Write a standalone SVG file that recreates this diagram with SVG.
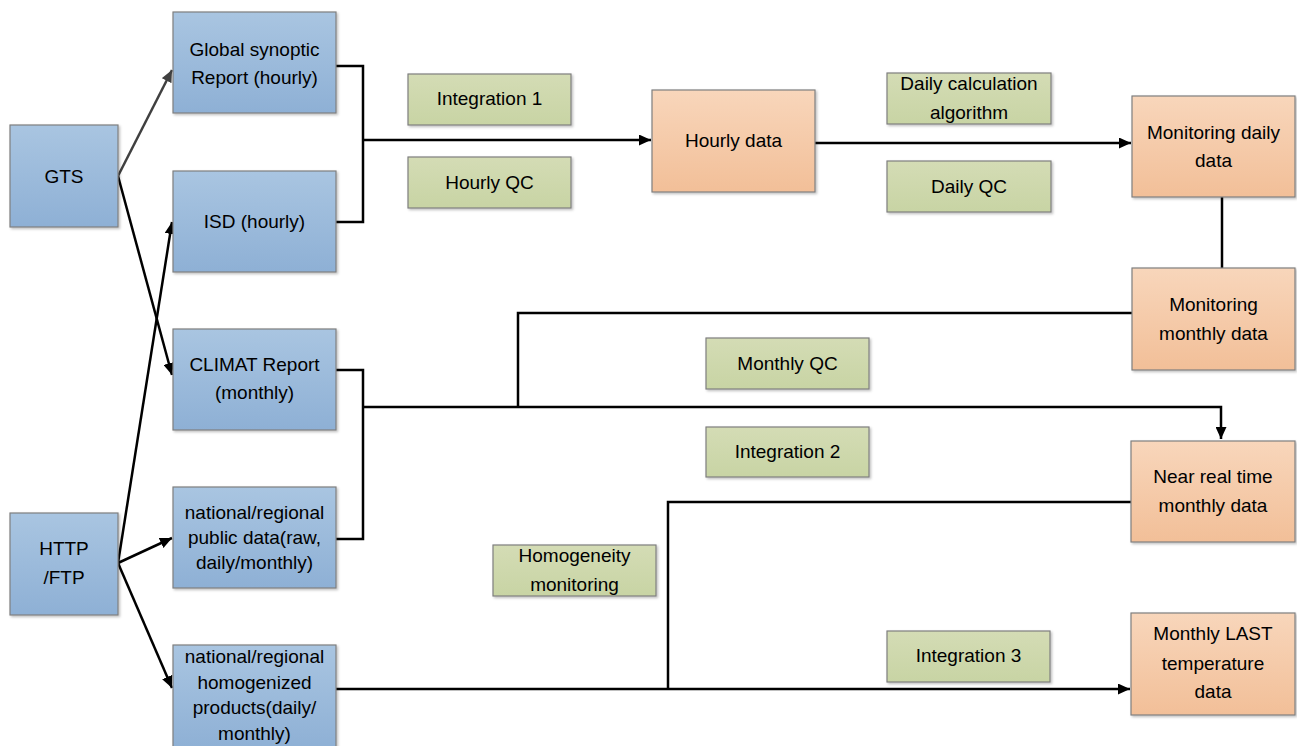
<svg xmlns="http://www.w3.org/2000/svg" width="1297" height="746" viewBox="0 0 1297 746">
<defs>
<linearGradient id="gBlue" x1="0" y1="0" x2="0" y2="1"><stop offset="0" stop-color="#a9c5e1"/><stop offset="1" stop-color="#8eb0d5"/></linearGradient>
<linearGradient id="gOrange" x1="0" y1="0" x2="0" y2="1"><stop offset="0" stop-color="#f8d6bb"/><stop offset="1" stop-color="#f2bf98"/></linearGradient>
<linearGradient id="gGreen" x1="0" y1="0" x2="0" y2="1"><stop offset="0" stop-color="#d4dcb5"/><stop offset="1" stop-color="#c8d4a4"/></linearGradient>
<filter id="sh" x="-5%" y="-5%" width="112%" height="115%"><feDropShadow dx="1.5" dy="1.5" stdDeviation="0.8" flood-color="#000" flood-opacity="0.25"/></filter>
<marker id="arr" markerUnits="userSpaceOnUse" markerWidth="13" markerHeight="11" refX="12" refY="5.5" orient="auto"><path d="M0,0 L12,5.5 L0,11 z" fill="#000"/></marker>
<marker id="arrG" markerUnits="userSpaceOnUse" markerWidth="13" markerHeight="11" refX="12" refY="5.5" orient="auto"><path d="M0,0 L12,5.5 L0,11 z" fill="#404040"/></marker>
</defs>
<style>
.b{fill:url(#gBlue);stroke:#7f7f7f;stroke-width:1.2;filter:url(#sh)}
.o{fill:url(#gOrange);stroke:#7f7f7f;stroke-width:1.2;filter:url(#sh)}
.g{fill:url(#gGreen);stroke:#7f7f7f;stroke-width:1.2;filter:url(#sh)}
text{font-family:"Liberation Sans",Arial,sans-serif;font-size:19px;fill:#000;text-anchor:middle}
.c{fill:none;stroke:#000;stroke-width:2.5}
.cg{fill:none;stroke:#404040;stroke-width:2.5}
</style>
<rect width="1297" height="746" fill="#fff"/>
<g id="connectors">
<path class="cg" d="M118,176 L172,70" marker-end="url(#arrG)"/>
<path class="c" d="M118,176 L172,375" marker-end="url(#arr)"/>
<path class="c" d="M118,563 L172,222" marker-end="url(#arr)"/>
<path class="c" d="M118,563 L172,538" marker-end="url(#arr)"/>
<path class="c" d="M118,563 L172,688" marker-end="url(#arr)"/>
<path class="c" d="M336,66 H363 V222 H336"/>
<path class="c" d="M363,140 H651" marker-end="url(#arr)"/>
<path class="c" d="M815,143 H1131" marker-end="url(#arr)"/>
<path class="c" d="M1222,197 V268"/>
<path class="c" d="M1132,313 H518 V407"/>
<path class="c" d="M336,370 H363 V539 H336"/>
<path class="c" d="M363,407 H1221 V439" marker-end="url(#arr)"/>
<path class="c" d="M1131,502 H668 V689"/>
<path class="c" d="M336,689 H1130" marker-end="url(#arr)"/>
</g>
<g id="gts"><rect class="b" x="10" y="125" width="108" height="102"/><text x="64" y="183">GTS</text></g>
<g id="http"><rect class="b" x="10" y="513" width="108" height="102"/><text x="64" y="555">HTTP</text><text x="64" y="584">/FTP</text></g>
<g id="global"><rect class="b" x="173" y="12" width="163" height="101"/><text x="254.5" y="56">Global synoptic</text><text x="254.5" y="84">Report (hourly)</text></g>
<g id="isd"><rect class="b" x="173" y="171" width="163" height="101"/><text x="254.5" y="228">ISD (hourly)</text></g>
<g id="climat"><rect class="b" x="173" y="329" width="163" height="101"/><text x="254.5" y="371">CLIMAT Report</text><text x="254.5" y="399">(monthly)</text></g>
<g id="public"><rect class="b" x="173" y="487" width="163" height="101"/><text x="254.5" y="519">national/regional</text><text x="254.5" y="544">public data(raw,</text><text x="254.5" y="569">daily/monthly)</text></g>
<g id="homog"><rect class="b" x="173" y="645" width="163" height="104"/><text x="254.5" y="663">national/regional</text><text x="254.5" y="689">homogenized</text><text x="254.5" y="714">products(daily/</text><text x="254.5" y="740">monthly)</text></g>
<g id="int1"><rect class="g" x="408" y="74" width="163" height="51"/><text x="489.5" y="105">Integration 1</text></g>
<g id="hqc"><rect class="g" x="408" y="157" width="163" height="51"/><text x="489.5" y="189">Hourly QC</text></g>
<g id="hourly"><rect class="o" x="652" y="90" width="163" height="102"/><text x="733.5" y="147">Hourly data</text></g>
<g id="dcalc"><rect class="g" x="887" y="73" width="164" height="51"/><text x="969" y="90">Daily calculation</text><text x="969" y="119">algorithm</text></g>
<g id="dqc"><rect class="g" x="887" y="161" width="164" height="51"/><text x="969" y="193">Daily QC</text></g>
<g id="mdaily"><rect class="o" x="1132" y="96" width="163" height="101"/><text x="1213.5" y="139">Monitoring daily</text><text x="1213.5" y="167">data</text></g>
<g id="mmonthly"><rect class="o" x="1132" y="268" width="163" height="102"/><text x="1213.5" y="311">Monitoring</text><text x="1213.5" y="340">monthly data</text></g>
<g id="mqc"><rect class="g" x="706" y="338" width="163" height="51"/><text x="787.5" y="370">Monthly QC</text></g>
<g id="int2"><rect class="g" x="706" y="427" width="163" height="50"/><text x="787.5" y="458">Integration 2</text></g>
<g id="nrt"><rect class="o" x="1131" y="441" width="164" height="101"/><text x="1213" y="483">Near real time</text><text x="1213" y="512">monthly data</text></g>
<g id="homo"><rect class="g" x="493" y="545" width="163" height="51"/><text x="574.5" y="562">Homogeneity</text><text x="574.5" y="591">monitoring</text></g>
<g id="int3"><rect class="g" x="887" y="631" width="163" height="51"/><text x="968.5" y="662">Integration 3</text></g>
<g id="last"><rect class="o" x="1131" y="613" width="164" height="102"/><text x="1213" y="640">Monthly LAST</text><text x="1213" y="670">temperature</text><text x="1213" y="698">data</text></g>
</svg>
